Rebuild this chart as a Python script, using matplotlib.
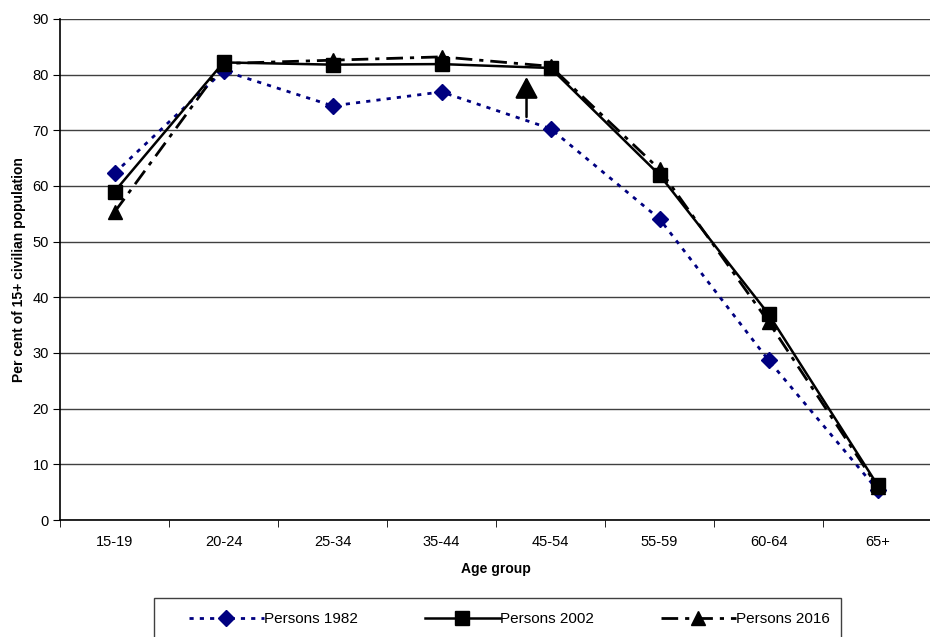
import matplotlib
matplotlib.use("Agg")
from matplotlib import pyplot as plt
from matplotlib.patches import Rectangle

plt.rcParams['font.family'] = ['Liberation Sans', 'DejaVu Sans']

ages = ['15-19', '20-24', '25-34', '35-44', '45-54', '55-59', '60-64', '65+']
p1982 = [62.3, 80.7, 74.4, 76.9, 70.3, 54.1, 28.7, 5.4]
p2002 = [59.0, 82.2, 81.8, 81.9, 81.2, 62.0, 37.0, 6.3]
p2016 = [55.3, 82.0, 82.6, 83.2, 81.5, 63.0, 35.6, 6.0]
# arrow drawn between 35-44 and 45-54
arrow_x = 3.78
arrow_from, arrow_to = 72.4, 79.6

W, H = 930, 637
fig = plt.figure(figsize=(W / 100, H / 100), dpi=100)
ax = fig.add_axes([60 / W, 117 / H, 872 / W, 501 / H])

x = list(range(len(ages)))
ax.plot(x, p1982, color='#000080', lw=2, linestyle=(0, (1.5, 2.2)),
        marker='D', ms=8.5, label='Persons 1982', zorder=3)
ax.plot(x, p2002, color='black', lw=1.8, linestyle='-',
        marker='s', ms=10, label='Persons 2002', zorder=4)
ax.plot(x, p2016, color='black', lw=2, linestyle=(0, (6, 2.5, 1.5, 2.5)),
        marker='^', ms=10, label='Persons 2016', zorder=3)

ax.annotate('', xy=(arrow_x, arrow_to), xytext=(arrow_x, arrow_from),
            arrowprops=dict(arrowstyle='-|>,head_length=1.3,head_width=0.7',
                            color='black', lw=1.8, shrinkA=0, shrinkB=0),
            zorder=5)

ax.set_xlim(-0.5, 7.5)
ax.set_ylim(0, 90)
ax.set_yticks(range(0, 91, 10))
ax.set_xticks(x)
ax.set_xticklabels(ages)
ax.set_xticks([i + 0.5 for i in range(-1, 8)], minor=True)
ax.tick_params(axis='x', which='major', length=0, pad=11, labelsize=10.5)
ax.tick_params(axis='x', which='minor', length=5, direction='out')
ax.tick_params(axis='y', length=5, direction='out', labelsize=10.5, pad=3)
ax.grid(axis='y', color='#404040', lw=1)
ax.set_axisbelow(True)
for s in ['top', 'right']:
    ax.spines[s].set_visible(False)
ax.spines['left'].set_linewidth(1.2)
ax.spines['bottom'].set_linewidth(1.2)

ax.set_xlabel('Age group', fontsize=10, fontweight='bold', labelpad=9)
ax.set_ylabel('Per cent of 15+ civilian population', fontsize=10,
              fontweight='bold', labelpad=5)

# legend box runs off the bottom of the figure
fig.patches.append(Rectangle((154 / W, -0.05), (841 - 154) / W, 0.05 + (H - 598) / H,
                             transform=fig.transFigure, fill=False,
                             edgecolor='#404040', lw=1))
fig.legend(loc='center left', bbox_to_anchor=(189 / W, 1 - 619 / H),
           ncol=3, frameon=False, fontsize=11,
           handlelength=4.9, columnspacing=4.4, borderpad=0,
           handletextpad=0.0, borderaxespad=0)

fig.savefig('out.png', dpi=100)
